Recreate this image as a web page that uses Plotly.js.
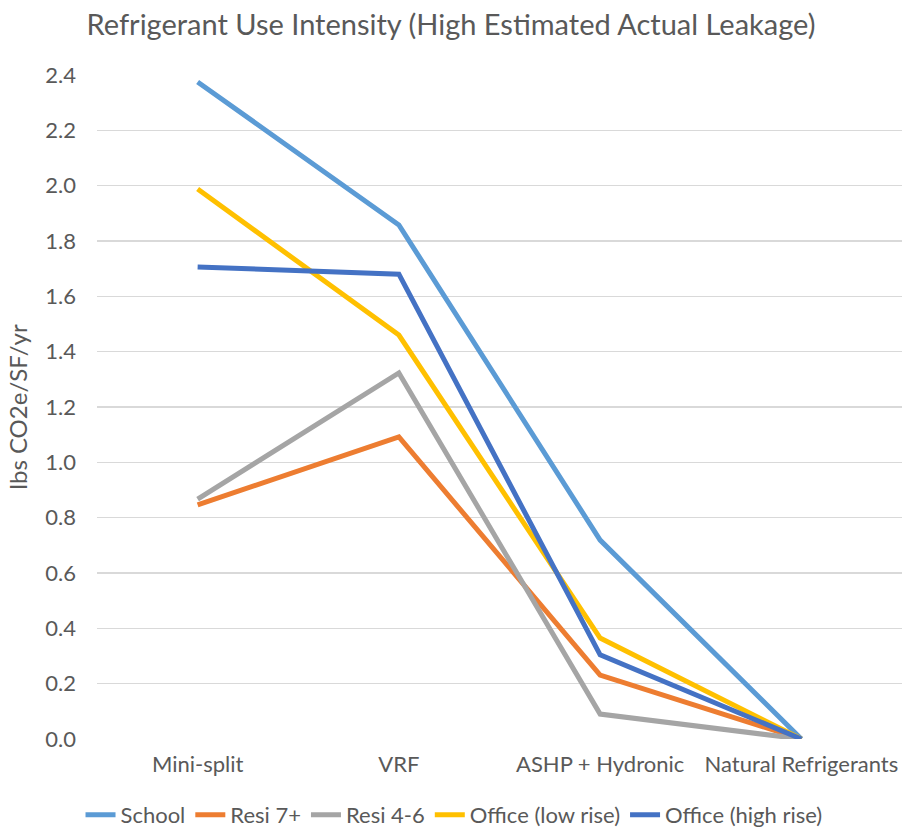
<!DOCTYPE html>
<html>
<head>
<meta charset="utf-8">
<script src="https://cdn.plot.ly/plotly-3.0.1.min.js"></script>
<style>html,body{margin:0;padding:0;background:#fff;}#chart{width:902px;height:836px;}</style>
</head>
<body>
<div id="chart"></div>
<script>
const categories = ["Mini-split", "VRF", "ASHP + Hydronic", "Natural Refrigerants"];
const seriesNames = ["School", "Resi 7+", "Resi 4-6", "Office (low rise)", "Office (high rise)"];
const school = [2.375, 1.858, 0.719, 0];
const resi7 = [0.846, 1.092, 0.231, 0];
const resi46 = [0.867, 1.323, 0.09, 0];
const officeLow = [1.988, 1.46, 0.365, 0];
const officeHigh = [1.706, 1.68, 0.304, 0];
const yTicks = [0, 0.2, 0.4, 0.6, 0.8, 1.0, 1.2, 1.4, 1.6, 1.8, 2.0, 2.2, 2.4];
const colors = ["#5B9BD5", "#ED7D31", "#A5A5A5", "#FFC000", "#4472C4"];

const seriesValues = [school, resi7, resi46, officeLow, officeHigh];
const FONT = "Lato, 'Open Sans', sans-serif";
const traces = seriesValues.map((vals, i) => ({
  type: "scatter",
  mode: "lines",
  name: seriesNames[i],
  x: categories,
  y: vals,
  line: {color: colors[i], width: 5},
  hoverinfo: "skip"
}));

const layout = {
  width: 902, height: 836,
  margin: {l: 97, r: 0, t: 75, b: 97},
  paper_bgcolor: "#fff", plot_bgcolor: "#fff",
  font: {family: FONT, color: "#595959"},
  title: {text: "Refrigerant Use Intensity (High Estimated Actual Leakage)",
          font: {size: 29, color: "#595959", family: FONT},
          x: 0.5, xanchor: "center", xref: "container", y: 0.97, yanchor: "middle", yref: "container"},
  xaxis: {type: "category", range: [-0.5, 3.5], showgrid: false, zeroline: false, automargin: false,
          showline: false, ticks: "", tickangle: 0, tickfont: {size: 22, color: "#595959"}, ticklabelstandoff: 10},
  yaxis: {range: [0, 2.4], tickvals: yTicks, ticktext: yTicks.map(v => v.toFixed(1)), automargin: false,
          showgrid: true, gridcolor: "#D9D9D9", gridwidth: 1.5, zeroline: false, showline: false,
          ticks: "", tickfont: {size: 22, color: "#595959"}, ticklabelstandoff: 20,
          title: {text: "lbs CO2e/SF/yr", font: {size: 24, color: "#595959"}, standoff: 10}},
  showlegend: true,
  legend: {orientation: "h", xref: "paper", x: 0.4435, xanchor: "center",
           yref: "container", y: -0.008, yanchor: "bottom", font: {size: 22, color: "#595959"},
           itemwidth: 30, tracegroupgap: 0, traceorder: "normal"}
};

Plotly.newPlot("chart", traces, layout, {staticPlot: true, displayModeBar: false});
</script>
</body>
</html>
